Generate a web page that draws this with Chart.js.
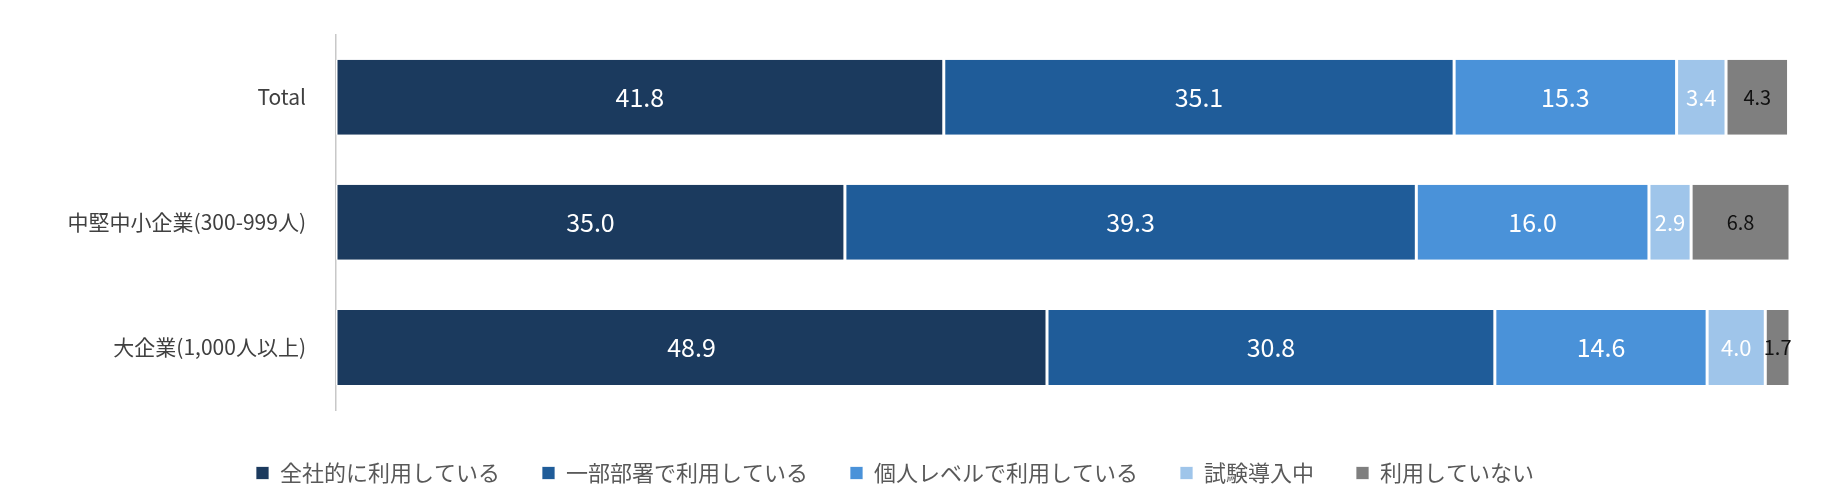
<!DOCTYPE html>
<html><head><meta charset="utf-8">
<script src="https://cdn.jsdelivr.net/npm/chart.js@4"></script>
<style>html,body{margin:0;padding:0;background:#fff}#w{width:1832px;height:494px}</style>
</head><body><div id="w"><canvas id="c"></canvas></div>
<script>
const categories = ["Total", "中堅中小企業(300-999人)", "大企業(1,000人以上)"];
const seriesNames = ["全社的に利用している", "一部部署で利用している", "個人レベルで利用している", "試験導入中", "利用していない"];
const allCompany = [41.8, 35.0, 48.9];
const someDepts = [35.1, 39.3, 30.8];
const individual = [15.3, 16.0, 14.6];
const trial = [3.4, 2.9, 4.0];
const notUsed = [4.3, 6.8, 1.7];

const colors = ["#1b3a5e", "#1f5c99", "#4a92d9", "#9fc5ea", "#7f7f7f"];
const labelColors = ["#fff", "#fff", "#fff", "#fff", "#111"];
const labelSizes = [25, 25, 25, 22, 20];
const FONT = "'Noto Sans CJK JP','Noto Sans',sans-serif";

const valueLabels = {
  id: "valueLabels",
  afterDatasetsDraw(chart) {
    const ctx = chart.ctx;
    chart.data.datasets.forEach((ds, i) => {
      chart.getDatasetMeta(i).data.forEach((bar, j) => {
        ctx.save();
        ctx.fillStyle = labelColors[i];
        ctx.font = labelSizes[i] + "px " + FONT;
        ctx.textAlign = "center"; ctx.textBaseline = "middle";
        ctx.fillText(ds.data[j].toFixed(1), (bar.x + bar.base) / 2, bar.y);
        ctx.restore();
      });
    });
  }
};

const seriesData = [allCompany, someDepts, individual, trial, notUsed];
new Chart(document.getElementById("c"), {
  type: "bar",
  data: {
    labels: categories,
    datasets: seriesNames.map((n, i) => ({
      label: n, data: seriesData[i], backgroundColor: colors[i],
      borderColor: "#fff", borderWidth: {left: 1.5, right: 1.5, top: 0, bottom: 0}, borderSkipped: false,
      barPercentage: 0.6, categoryPercentage: 1
    }))
  },
  options: {
    indexAxis: "y", responsive: true, maintainAspectRatio: false, animation: false,
    layout: {padding: {left: 0, right: 42, top: -38, bottom: 0}},
    plugins: {
      tooltip: {enabled: false},
      legend: {position: "bottom",
        labels: {font: {family: FONT, size: 22}, color: "#595959", boxWidth: 13, boxHeight: 13, padding: 42}}
    },
    scales: {
      x: {stacked: true, min: 0, max: 100, ticks: {display: false}, grid: {display: false}, border: {display: false},
          afterFit(s) { s.height = 10; }},
      y: {stacked: true, grid: {display: false}, border: {display: true, color: "#c8c8c8", width: 1.5},
          ticks: {font: {family: FONT, size: 21}, color: "#404040", padding: 22},
          afterFit(s) { s.width = 336; }}
    }
  },
  plugins: [valueLabels]
});
</script></body></html>
